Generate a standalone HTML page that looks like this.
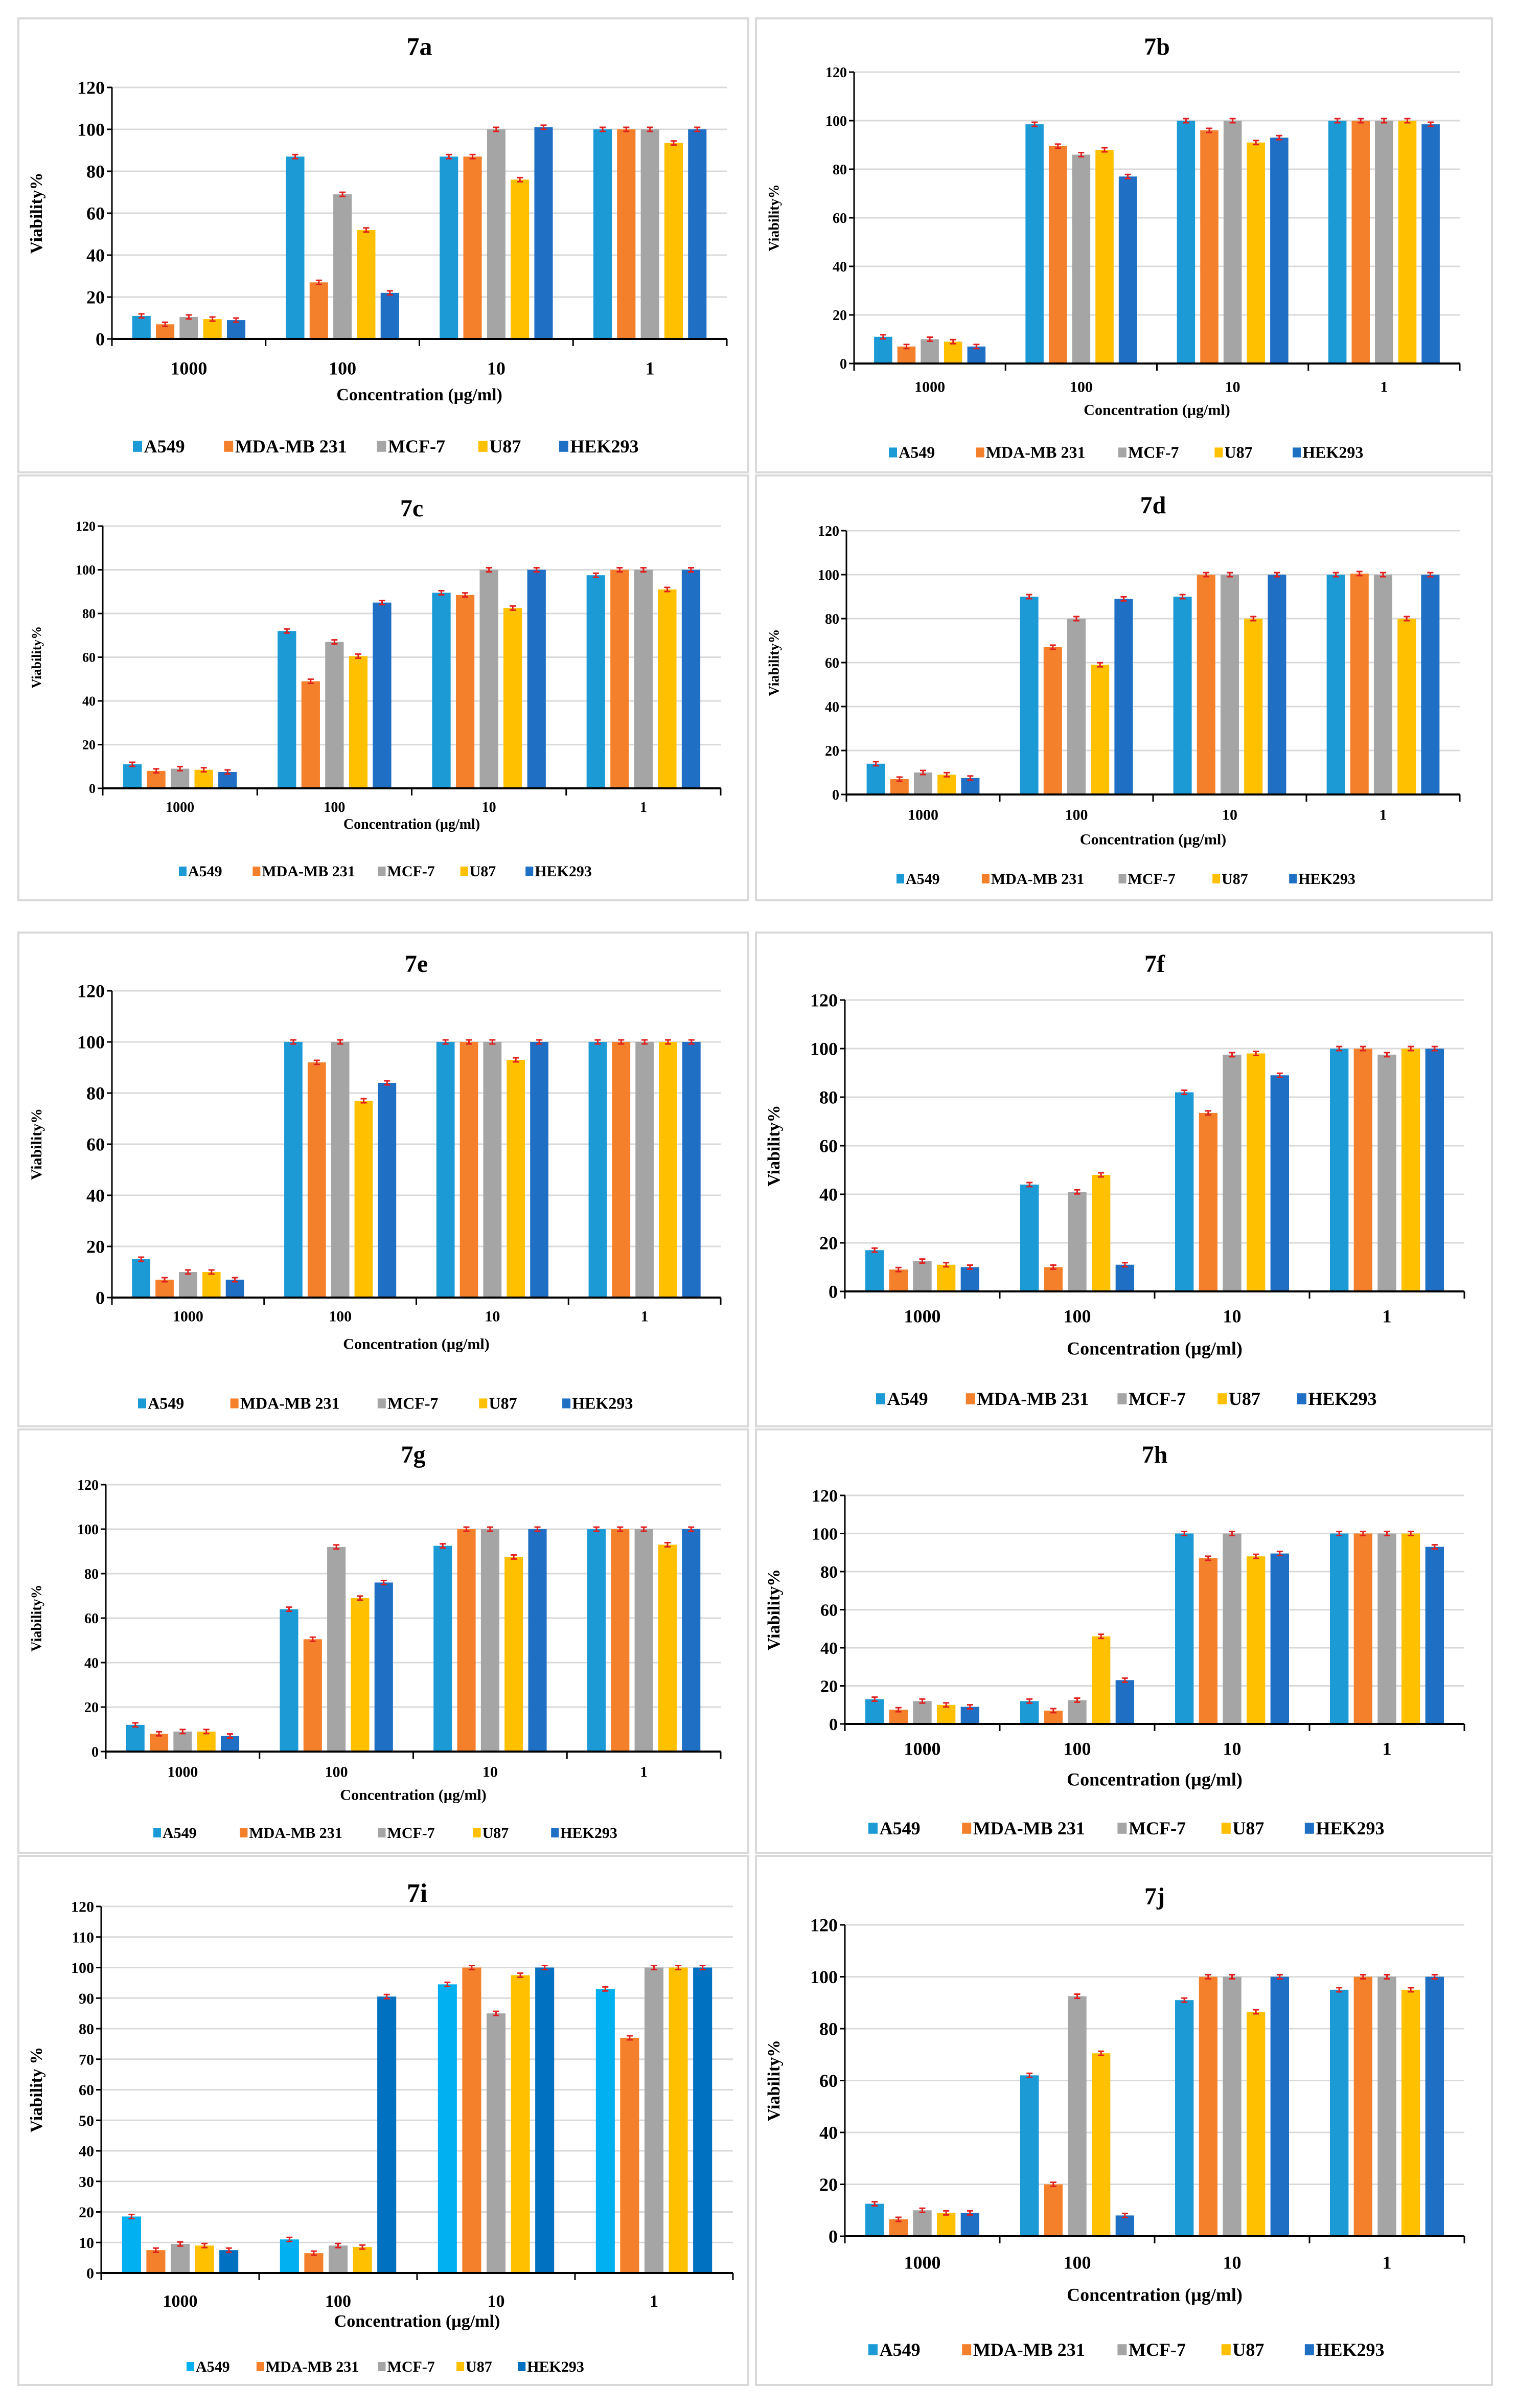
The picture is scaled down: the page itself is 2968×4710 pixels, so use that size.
<!DOCTYPE html>
<html><head><meta charset="utf-8"><style>
html,body{margin:0;padding:0;background:#fff}
svg{display:block}
text{font-family:"Liberation Serif",serif;font-weight:bold;fill:#000}
</style></head><body>
<svg id="fig" width="2968" height="4710" viewBox="0 0 2968 4710" xmlns="http://www.w3.org/2000/svg"></svg>
<script>
const categories = ["1000","100","10","1"];
const seriesNames = ["A549","MDA-MB 231","MCF-7","U87","HEK293"];
const v7a = [[11,87,87,100],[7,27,87,100],[10.5,69,100,100],[9.5,52,76,93.5],[9,22,101,100]];
const v7b = [[11,98.5,100,100],[7,89.5,96,100],[10,86,100,100],[9,88,91,100],[7,77,93,98.5]];
const v7c = [[11,72,89.5,97.5],[8,49,88.5,100],[9,67,100,100],[8.5,60.5,82.5,91],[7.5,85,100,100]];
const v7d = [[14,90,90,100],[7,67,100,100.5],[10,80,100,100],[9,59,80,80],[7.5,89,100,100]];
const v7e = [[15,100,100,100],[7,92,100,100],[10,100,100,100],[10,77,93,100],[7,84,100,100]];
const v7f = [[17,44,82,100],[9,10,73.5,100],[12.5,41,97.5,97.5],[11,48,98,100],[10,11,89,100]];
const v7g = [[12,64,92.5,100],[8,50.5,100,100],[9,92,100,100],[9,69,87.5,93],[7,76,100,100]];
const v7h = [[13,12,100,100],[7.5,7,87,100],[12,12.5,100,100],[10,46,88,100],[9,23,89.5,93]];
const v7i = [[18.5,11,94.5,93],[7.5,6.5,100,77],[9.5,9,85,100],[9,8.5,97.5,100],[7.5,90.5,100,100]];
const v7j = [[12.5,62,91,95],[6.5,20,100,100],[10,92.5,100,100],[9,70.5,86.5,95],[9,8,100,100]];
const yTicks20 = [0,20,40,60,80,100,120];
const yTicks10 = [0,10,20,30,40,50,60,70,80,90,100,110,120];

const colors=["#1b9ad6","#f5802b","#a5a5a5","#ffc000","#1f6fc4"];
const colorsI=["#00b0f0","#f5802b","#a5a5a5","#ffc000","#0070c0"];
const panels=[
 {id:"7a",vals:v7a,box:[12,12,488,308],pl:73,pr:474,pt:57,pb:221,ty:30,cy:240,xty:257,ly:291,f:[50,36,36,34,36,34],lw:980,ticks:yTicks20},
 {id:"7b",vals:v7b,box:[493,12,973,308],pl:557,pr:952,pt:47,pb:237,ty:30,cy:252,xty:267,ly:295,f:[48,28,30,30,32,28],lw:920,ticks:yTicks20},
 {id:"7c",vals:v7c,box:[12,310,488,587],pl:67,pr:470,pt:343,pb:514,ty:331,cy:526,xty:537,ly:568,f:[48,26,28,28,30,26],lw:800,ticks:yTicks20},
 {id:"7d",vals:v7d,box:[493,310,973,587],pl:552,pr:952,pt:346,pb:518,ty:329,cy:531,xty:547,ly:573,f:[48,28,30,30,30,28],lw:890,ticks:yTicks20},
 {id:"7e",vals:v7e,box:[12,608,488,930],pl:73,pr:470,pt:646,pb:846,ty:628,cy:858,xty:876,ly:915,f:[48,36,30,30,32,30],lw:960,ticks:yTicks20},
 {id:"7f",vals:v7f,box:[493,608,973,930],pl:551,pr:955,pt:652,pb:842,ty:628,cy:858,xty:879,ly:912,f:[48,36,36,36,36,34],lw:970,ticks:yTicks20},
 {id:"7g",vals:v7g,box:[12,932,488,1208],pl:69,pr:470,pt:968,pb:1142,ty:948,cy:1155,xty:1170,ly:1195,f:[48,28,30,30,30,28],lw:900,ticks:yTicks20},
 {id:"7h",vals:v7h,box:[493,932,973,1208],pl:551,pr:955,pt:975,pb:1124,ty:948,cy:1140,xty:1160,ly:1192,f:[48,34,36,36,36,34],lw:1000,ticks:yTicks20},
 {id:"7i",vals:v7i,box:[12,1210,488,1555],pl:66,pr:478,pt:1243,pb:1482,ty:1234,cy:1500,xty:1513,ly:1543,f:[52,30,34,34,30,34],lw:770,ticks:yTicks10,alt:true},
 {id:"7j",vals:v7j,box:[493,1210,973,1555],pl:551,pr:955,pt:1255,pb:1458,ty:1236,cy:1475,xty:1496,ly:1532,f:[48,36,36,36,36,34],lw:1000,ticks:yTicks20}
];
const svg=document.getElementById('fig');
const NS="http://www.w3.org/2000/svg";
function mk(tag,attrs,parent){const e=document.createElementNS(NS,tag);for(const k in attrs)e.setAttribute(k,attrs[k]);(parent||svg).appendChild(e);return e;}
function txt(s,attrs,parent){const e=mk('text',attrs,parent);e.textContent=s;return e;}
const S=3;
panels.forEach(p=>{
  const g=mk('g',{});
  
  
  const [bx0,by0,bx1,by1]=p.box.map(v=>v*S);
  const bg=mk('rect',{x:bx0,y:by0,width:bx1-bx0,height:by1-by0,fill:"#fff",stroke:"#d9d9d9","stroke-width":4},g);
  
  
  const L=p.pl*S,R=p.pr*S,T=p.pt*S,B=p.pb*S;
  const ymax=120;
  const y=v=>B-(v/ymax)*(B-T);
  const gw=(R-L)/categories.length;
  const xg=i=>L+gw*i;
  const cx=(bx0+bx1)/2;
  const t=txt(p.id,{x:(L+R)/2,y:p.ty*S+p.f[0]*0.35,"font-size":p.f[0],"text-anchor":"middle"},g);
  
  
  p.ticks.forEach(tv=>{
    if(tv>0){const gl=mk('line',{x1:L,x2:R,y1:y(tv),y2:y(tv),stroke:"#d9d9d9","stroke-width":3},g);
      
      }
    mk('line',{x1:L-10,x2:L,y1:y(tv),y2:y(tv),stroke:"#000","stroke-width":3},g);
    const tl=txt(String(tv),{x:L-14,y:y(tv)+p.f[1]*0.35,"font-size":p.f[1],"text-anchor":"end"},g);
    
    
  });
  const pal=p.alt?colorsI:colors;
  categories.forEach((c,i)=>{
    const pitch=gw*0.154,bw=gw*0.12;
    const start=xg(i)+gw/2-pitch*2.5;
    p.vals.forEach((ser,s)=>{
      const v=ser[i];
      const x=start+pitch*s+(pitch-bw)/2;
      const r=mk('rect',{x:x,y:y(v),width:bw,height:B-y(v),fill:pal[s]},g);
      
      
      const ex=x+bw/2,ey=y(v);
      mk('line',{x1:ex,x2:ex,y1:ey-4,y2:ey+4,stroke:"#e02020","stroke-width":3},g);
      mk('line',{x1:ex-6,x2:ex+6,y1:ey-4,y2:ey-4,stroke:"#e02020","stroke-width":3},g);
      mk('line',{x1:ex-6,x2:ex+6,y1:ey+4,y2:ey+4,stroke:"#e02020","stroke-width":3},g);
    });
    const cl=txt(c,{x:xg(i)+gw/2,y:p.cy*S+p.f[2]*0.35,"font-size":p.f[2],"text-anchor":"middle"},g);
    
    
    mk('line',{x1:xg(i),x2:xg(i),y1:B,y2:B+14,stroke:"#000","stroke-width":3},g);
  });
  mk('line',{x1:R,x2:R,y1:B,y2:B+14,stroke:"#000","stroke-width":3},g);
  const ax=mk('line',{x1:L,x2:R,y1:B,y2:B,stroke:"#000","stroke-width":4},g);
  
  
  const ay=mk('line',{x1:L,x2:L,y1:T,y2:B,stroke:"#000","stroke-width":3},g);
  
  
  const xt=txt("Concentration (µg/ml)",{x:(L+R)/2,y:p.xty*S+p.f[3]*0.35,"font-size":p.f[3],"text-anchor":"middle"},g);
  
  
  const yx=bx0+12*S+p.f[5]*0.3, yy=(T+B)/2;
  const yt=txt(p.alt?"Viability %":"Viability%",{x:yx,y:yy,"font-size":p.f[5],"text-anchor":"middle",transform:`rotate(-90 ${yx} ${yy})`},g);
  
  
  const lf=p.f[4];
  const lg=mk('g',{},g);
  
  
  const widths=seriesNames.map(n=>n.length*lf*0.56+lf*0.7);
  const sumW=widths.reduce((a,b)=>a+b,0);
  const gap=Math.max(lf*0.4,(p.lw-sumW)/4);
  const total=sumW+gap*4;
  let lx=cx-total/2;const ly=p.ly*S;
  seriesNames.forEach((n,s)=>{
    const it=mk('g',{},lg);
    
    
    mk('rect',{x:lx,y:ly-lf*0.3,width:lf*0.5,height:lf*0.6,fill:pal[s]},it);
    txt(n,{x:lx+lf*0.6,y:ly+lf*0.33,"font-size":lf},it);
    lx+=widths[s]+gap;
  });
});
</script>
</body></html>
